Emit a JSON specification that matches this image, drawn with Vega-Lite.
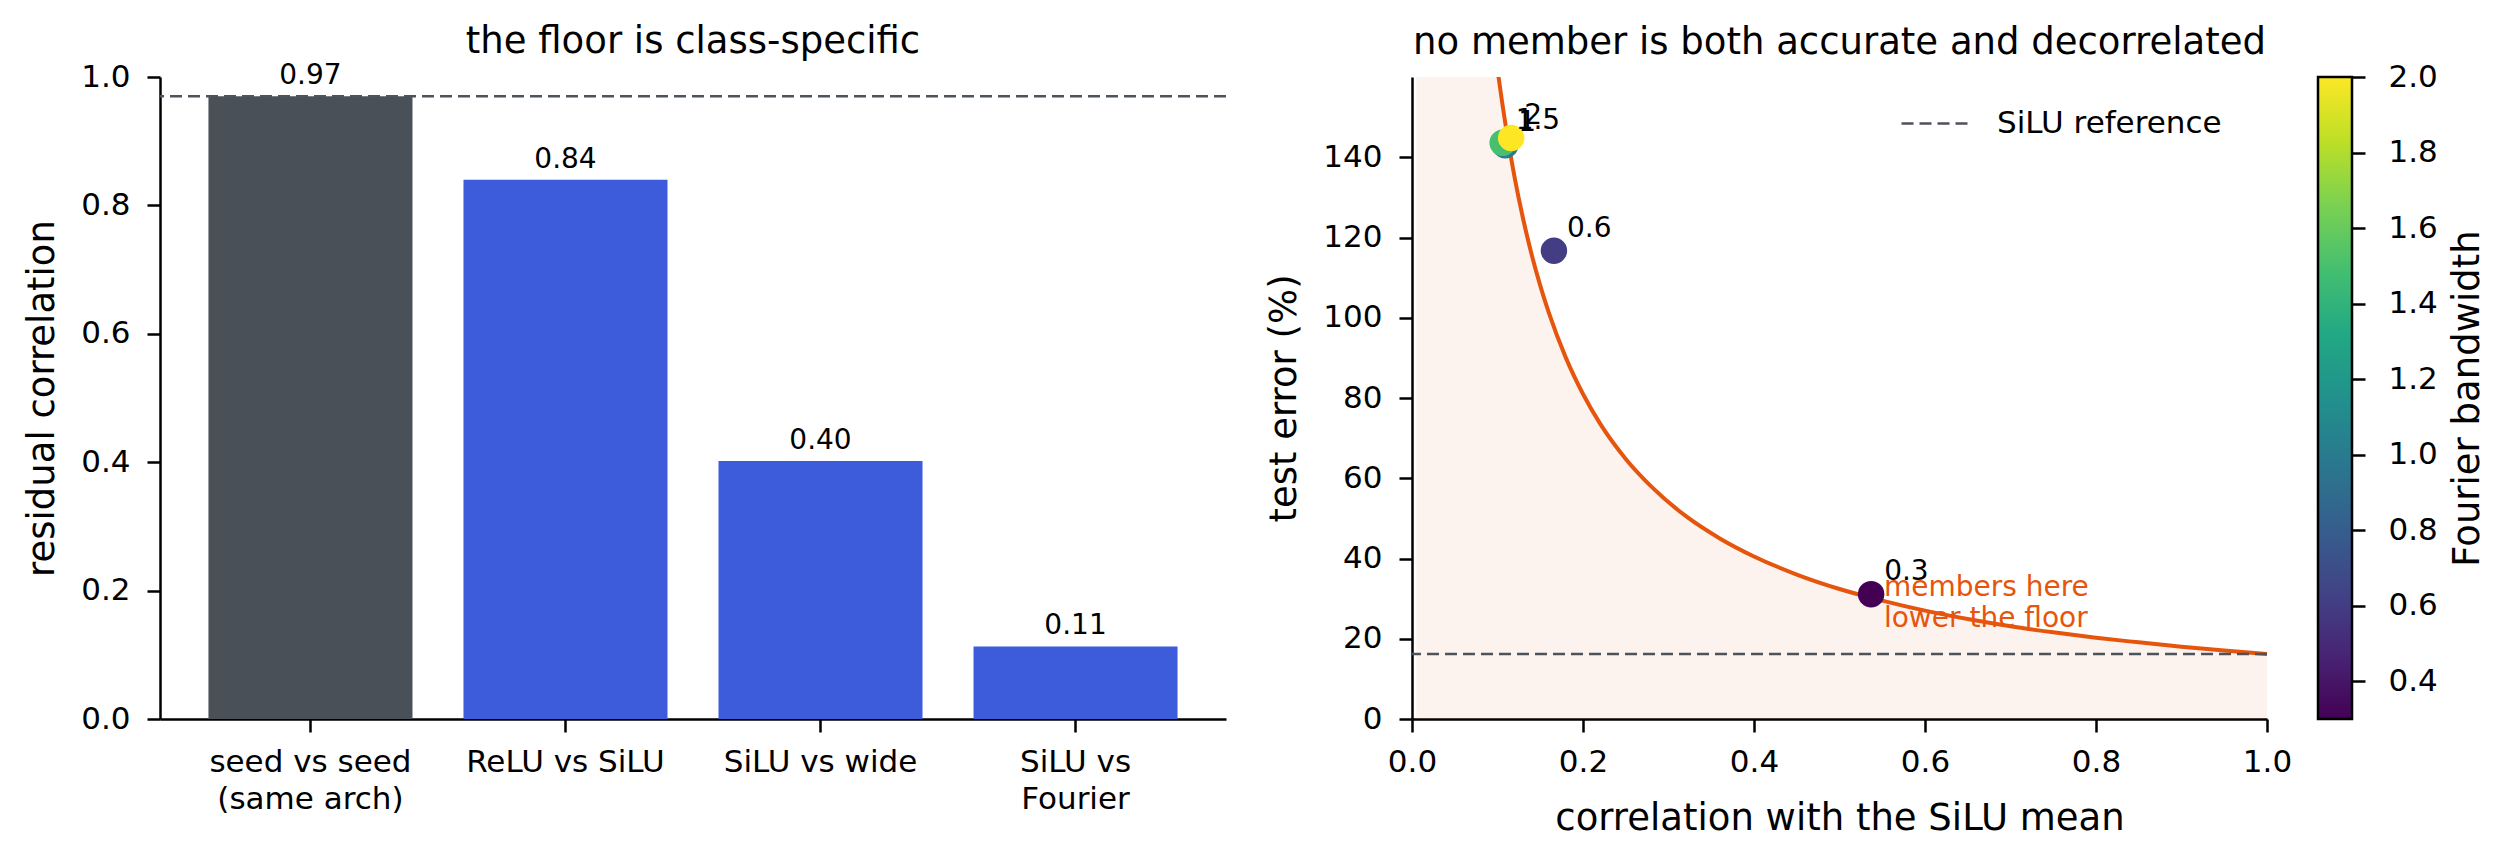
{
  "$schema": "https://vega.github.io/schema/vega-lite/v6.json",
  "background": "white",
  "padding": {"left": 23, "top": 23, "right": 10, "bottom": 10},
  "bounds": "flush",
  "spacing": 186,
  "config": {
    "font": "DejaVu Sans",
    "view": {"stroke": null},
    "axis": {
      "grid": false, "domainColor": "black", "domainWidth": 2.5,
      "tickColor": "black", "tickWidth": 2.5, "tickSize": 13,
      "labelColor": "black", "labelFontSize": 31, "titleColor": "black",
      "titleFontSize": 37, "titleFontWeight": "normal", "labelFont": "DejaVu Sans", "titleFont": "DejaVu Sans"
    },
    "title": {"fontSize": 37, "fontWeight": "normal", "color": "black", "font": "DejaVu Sans", "anchor": "middle", "frame": "group"},
    "legend": {"labelFont": "DejaVu Sans", "titleFont": "DejaVu Sans", "labelColor": "black", "titleColor": "black"}
  },
  "resolve": {"scale": {"x": "independent", "y": "independent", "color": "independent", "strokeDash": "independent"}},
  "hconcat": [
    {
      "width": 1066,
      "height": 642,
      "title": {"text": "the floor is class-specific", "offset": -29, "baseline": "alphabetic"},
      "layer": [
        {
          "data": {"values": [
            {"pair": "seed vs seed\n(same arch)", "corr": 0.97},
            {"pair": "ReLU vs SiLU", "corr": 0.84},
            {"pair": "SiLU vs wide", "corr": 0.402},
            {"pair": "SiLU vs\nFourier", "corr": 0.113}
          ]},
          "layer": [
            {
              "mark": {"type": "bar"},
              "encoding": {
                "x": {"field": "pair", "type": "nominal", "sort": null,
                  "scale": {"paddingInner": 0.2, "paddingOuter": 0.19},
                  "axis": {"title": null, "labelAngle": 0, "labelExpr": "split(datum.label, '\\n')", "labelLineHeight": 37, "labelPadding": 15, "labelBaseline": "top", "labelLimit": 0, "labelOverlap": false}},
                "y": {"field": "corr", "type": "quantitative", "scale": {"domain": [0, 1]},
                  "axis": {"title": "residual correlation", "values": [0, 0.2, 0.4, 0.6, 0.8, 1.0], "format": ".1f", "labelPadding": 17, "titleX": -107, "titleBaseline": "alphabetic"}},
                "color": {"condition": {"test": "indexof(datum.pair, 'seed') === 0", "value": "#4a5058"}, "value": "#3c5cdb"}
              }
            },
            {
              "mark": {"type": "text", "baseline": "alphabetic", "dy": -12, "fontSize": 28, "color": "black"},
              "encoding": {
                "x": {"field": "pair", "type": "nominal", "sort": null},
                "y": {"field": "corr", "type": "quantitative"},
                "text": {"field": "corr", "format": ".2f"}
              }
            }
          ]
        },
        {
          "data": {"values": [{"ref": 0.97}]},
          "mark": {"type": "rule", "strokeDash": [12, 6], "color": "#4d535b", "strokeWidth": 2.5},
          "encoding": {"y": {"field": "ref", "type": "quantitative"}}
        }
      ]
    },
    {
      "bounds": "flush",
      "spacing": 51,
      "resolve": {"scale": {"x": "independent", "y": "independent", "color": "independent", "strokeDash": "independent"}},
      "hconcat": [
        {
          "width": 855,
          "height": 642,
          "title": {"text": "no member is both accurate and decorrelated", "offset": -14, "baseline": "alphabetic"},
          "layer": [
            {
              "data": {"name": "curve", "values": [
                {"rho": 0.005, "err": 3240}, {"rho": 0.02, "err": 810}, {"rho": 0.05, "err": 324},
                {"rho": 0.08, "err": 202.5}, {"rho": 0.09, "err": 180}, {"rho": 0.1, "err": 162},
                {"rho": 0.11, "err": 147.3}, {"rho": 0.12, "err": 135}, {"rho": 0.13, "err": 124.6},
                {"rho": 0.14, "err": 115.7}, {"rho": 0.15, "err": 108}, {"rho": 0.16, "err": 101.25},
                {"rho": 0.18, "err": 90}, {"rho": 0.2, "err": 81}, {"rho": 0.22, "err": 73.6},
                {"rho": 0.25, "err": 64.8}, {"rho": 0.28, "err": 57.9}, {"rho": 0.32, "err": 50.6},
                {"rho": 0.36, "err": 45}, {"rho": 0.4, "err": 40.5}, {"rho": 0.45, "err": 36},
                {"rho": 0.5, "err": 32.4}, {"rho": 0.55, "err": 29.5}, {"rho": 0.6, "err": 27},
                {"rho": 0.65, "err": 24.9}, {"rho": 0.7, "err": 23.1}, {"rho": 0.75, "err": 21.6},
                {"rho": 0.8, "err": 20.25}, {"rho": 0.85, "err": 19.1}, {"rho": 0.9, "err": 18},
                {"rho": 0.95, "err": 17.05}, {"rho": 1.0, "err": 16.2}
              ]},
              "layer": [
                {
                  "mark": {"type": "area", "color": "#e6550d", "opacity": 0.07, "clip": true, "interpolate": "monotone"},
                  "encoding": {
                    "x": {"field": "rho", "type": "quantitative", "title": "correlation with the SiLU mean",
                      "scale": {"domain": [0, 1]},
                      "axis": {"values": [0, 0.2, 0.4, 0.6, 0.8, 1.0], "format": ".1f", "labelFlush": false, "labelPadding": 15, "titleY": 110, "titleBaseline": "alphabetic"}},
                    "y": {"field": "err", "type": "quantitative", "title": "test error (%)",
                      "scale": {"domain": [0, 159.5]},
                      "axis": {"values": [0, 20, 40, 60, 80, 100, 120, 140], "labelPadding": 17, "titleX": -117, "titleBaseline": "alphabetic"}},
                    "y2": {"datum": 0}
                  }
                },
                {
                  "mark": {"type": "line", "color": "#e6550d", "strokeWidth": 4, "clip": true, "interpolate": "monotone"},
                  "encoding": {
                    "x": {"field": "rho", "type": "quantitative", "title": "correlation with the SiLU mean"},
                    "y": {"field": "err", "type": "quantitative", "title": "test error (%)"}
                  }
                }
              ]
            },
            {
              "data": {"values": [{"err": 16.2}]},
              "mark": {"type": "rule", "color": "#4d535b", "strokeWidth": 2.5},
              "encoding": {
                "y": {"field": "err", "type": "quantitative", "title": "test error (%)"},
                "strokeDash": {"datum": "SiLU reference", "type": "nominal",
                  "scale": {"range": [[12, 6]]},
                  "legend": {"orient": "none", "legendX": 488, "legendY": 12, "title": null, "symbolType": "stroke", "symbolSize": 4356, "symbolStrokeWidth": 2.5, "symbolStrokeColor": "#4d535b", "labelFontSize": 31, "labelOffset": 28, "labelLimit": 0, "padding": 0}}
              }
            },
            {
              "data": {"name": "members", "values": [
                {"bw": 0.3, "rho": 0.537, "err": 31.1},
                {"bw": 0.6, "rho": 0.166, "err": 116.7},
                {"bw": 1.0, "rho": 0.109, "err": 143.0},
                {"bw": 1.5, "rho": 0.106, "err": 143.6},
                {"bw": 2.0, "rho": 0.116, "err": 144.8}
              ]},
              "layer": [
                {
                  "mark": {"type": "circle", "size": 700, "opacity": 1},
                  "encoding": {
                    "x": {"field": "rho", "type": "quantitative", "title": "correlation with the SiLU mean"},
                    "y": {"field": "err", "type": "quantitative", "title": "test error (%)"},
                    "color": {"field": "bw", "type": "quantitative",
                      "scale": {"scheme": "viridis", "domain": [0.3, 2.0]}, "legend": null}
                  }
                },
                {
                  "mark": {"type": "text", "align": "left", "baseline": "alphabetic", "dx": 13, "dy": -14, "fontSize": 28, "color": "black"},
                  "encoding": {
                    "x": {"field": "rho", "type": "quantitative", "title": "correlation with the SiLU mean"},
                    "y": {"field": "err", "type": "quantitative", "title": "test error (%)"},
                    "text": {"field": "bw", "type": "quantitative", "format": "~g"}
                  }
                }
              ]
            },
            {
              "data": {"values": [{"rho": 0.552, "err": 30.6, "note": ["members here", "lower the floor"]}]},
              "mark": {"type": "text", "align": "left", "baseline": "alphabetic", "fontSize": 28, "lineHeight": 31, "color": "#e6550d"},
              "encoding": {
                "x": {"field": "rho", "type": "quantitative", "title": "correlation with the SiLU mean"},
                "y": {"field": "err", "type": "quantitative", "title": "test error (%)"},
                "text": {"field": "note"}
              }
            }
          ]
        },
        {
          "width": 34,
          "height": 642,
          "data": {"values": [{"lo": 0.3, "hi": 2.0}]},
          "mark": {"type": "rect", "stroke": "black", "strokeWidth": 2.5,
            "fill": {"gradient": "linear", "x1": 0, "y1": 1, "x2": 0, "y2": 0, "stops": [
              {"offset": 0, "color": "#440154"}, {"offset": 0.1, "color": "#482475"},
              {"offset": 0.2, "color": "#414487"}, {"offset": 0.3, "color": "#355f8d"},
              {"offset": 0.4, "color": "#2a788e"}, {"offset": 0.5, "color": "#21918c"},
              {"offset": 0.6, "color": "#22a884"}, {"offset": 0.7, "color": "#44bf70"},
              {"offset": 0.8, "color": "#7ad151"}, {"offset": 0.9, "color": "#bddf26"},
              {"offset": 1, "color": "#fde725"}]}},
          "encoding": {
            "x": {"value": 0},
            "x2": {"value": "width"},
            "y": {"field": "lo", "type": "quantitative", "scale": {"domain": [0.3, 2.0]},
              "axis": {"orient": "right", "title": "Fourier bandwidth", "domain": false, "ticks": true, "tickSize": 13, "tickColor": "black", "tickWidth": 2.5, "zindex": 1,
                "values": [0.4, 0.6, 0.8, 1.0, 1.2, 1.4, 1.6, 1.8, 2.0], "format": ".1f",
                "labelPadding": 23, "titleAngle": 270, "titleX": 126, "titleBaseline": "alphabetic"}},
            "y2": {"field": "hi"}
          }
        }
      ]
    }
  ]
}
